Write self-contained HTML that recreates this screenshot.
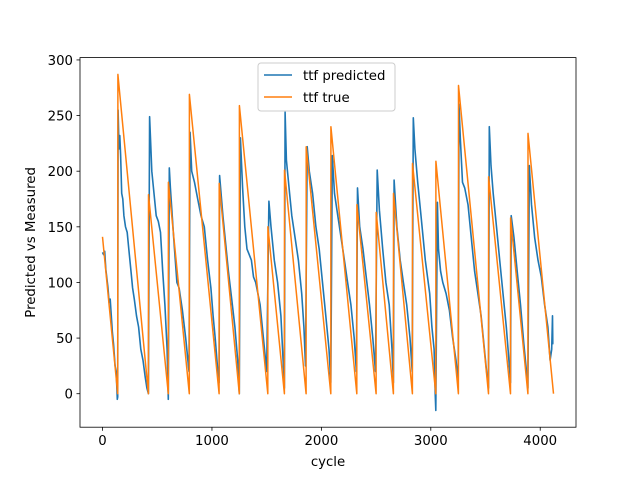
<!DOCTYPE html>
<html><head><meta charset="utf-8"><style>
body{margin:0;background:#fff}
svg text{font-family:"DejaVu Sans","Liberation Sans",sans-serif;font-size:13.3px;fill:#000}
</style></head><body>
<svg id="chart" width="640" height="480" xmlns="http://www.w3.org/2000/svg">
<rect width="640" height="480" fill="#fff"/>
<g id="plot"></g>
<g id="axes"></g>
</svg>
<script>
const trueStarts=[0,140,420,602,794,1066,1251,1511,1663,1861,2087,2325,2501,2659,2833,3047,3253,3528,3729,3888];
const truePeaks=[141,287,179,190,269,189,259,150,201,222,240,170,163,180,207,209,277,195,158,234];
const trueEnds=[139,419,601,793,1065,1250,1510,1662,1860,2086,2324,2500,2658,2832,3046,3252,3527,3728,3887,4121];
const predCycles=[0,10,20,30,50,60,70,90,100,115,125,135,139,
142,150,158,165,175,185,195,210,225,240,260,275,290,310,330,350,370,390,405,419,
430,440,450,470,490,510,530,550,570,590,601,
610,620,650,680,700,730,760,790,
800,815,840,870,900,930,960,990,1010,1030,1050,1065,
1070,1100,1120,1150,1180,1210,1235,1250,
1260,1280,1300,1320,1340,1360,1380,1400,1420,1440,1460,1480,1500,
1520,1540,1570,1600,1630,1650,1662,
1668,1680,1710,1730,1760,1790,1820,1840,1855,
1870,1890,1920,1950,1980,2010,2040,2070,2086,
2100,2120,2150,2180,2210,2240,2270,2300,2320,
2330,2350,2380,2410,2440,2470,2495,
2510,2530,2560,2590,2620,2645,2658,
2665,2690,2720,2750,2780,2810,2830,
2840,2855,2880,2910,2950,2990,3010,3030,3040,3046,
3060,3070,3090,3110,3140,3170,3200,3230,3250,
3258,3270,3290,3310,3340,3370,3400,3430,3460,3490,3510,3527,
3535,3550,3570,3600,3630,3660,3690,3710,3728,
3735,3760,3790,3820,3850,3875,3887,
3900,3920,3950,3980,4010,4040,4070,4090,4105,4112,4115,4121];
const predValues=[127,125,128,112,95,82,85,55,45,25,20,-5,-3,
255,220,232,215,180,175,160,150,145,130,110,95,85,70,60,40,30,15,5,0,
249,225,200,180,160,155,145,110,80,40,-5,
203,185,140,100,95,75,50,20,
235,200,190,175,160,150,120,95,70,50,25,10,
196,160,140,110,85,60,30,0,
230,185,150,130,125,120,105,100,90,80,60,40,20,
173,150,120,100,70,30,5,
253,210,180,160,140,120,90,60,25,
222,200,180,150,130,100,70,40,10,
214,180,160,140,120,100,80,50,20,
185,150,130,105,80,50,20,
201,165,130,100,80,40,10,
192,150,120,100,80,50,20,
248,220,190,160,120,90,60,40,0,-15,
172,130,110,100,90,75,50,30,10,
260,230,190,185,170,140,110,90,70,40,20,5,
240,205,180,150,120,90,60,35,10,
160,140,110,80,45,20,5,
205,170,140,120,105,80,60,30,40,70,45,45];
const xTicks=[0,1000,2000,3000,4000];
const yTicks=[0,50,100,150,200,250,300];

const L=80,R=576,T=57.6,B=427.2;
const xMin=-206,xMax=4327,yMin=-30.1,yMax=302.1;
const X=v=>L+(v-xMin)/(xMax-xMin)*(R-L);
const Y=v=>B-(v-yMin)/(yMax-yMin)*(B-T);
const NS='http://www.w3.org/2000/svg';
function mk(tag,attrs,parent){const e=document.createElementNS(NS,tag);for(const k in attrs)e.setAttribute(k,attrs[k]);parent.appendChild(e);return e;}
const plot=document.getElementById('plot'),axes=document.getElementById('axes');

let pd='';
predCycles.forEach((c,i)=>{pd+=(i?'L':'M')+X(c).toFixed(1)+' '+Y(predValues[i]).toFixed(1);});
const pl=mk('path',{d:pd,fill:'none',stroke:'#1f77b4','stroke-width':1.6,'stroke-linejoin':'round'},plot);



let td='';
trueStarts.forEach((s,i)=>{
  td+=(i?'L':'M')+X(s).toFixed(1)+' '+Y(truePeaks[i]).toFixed(1);
  td+='L'+X(trueEnds[i]).toFixed(1)+' '+Y(0).toFixed(1);
});
const tl=mk('path',{d:td,fill:'none',stroke:'#ff7f0e','stroke-width':1.5,'stroke-linejoin':'round'},plot);



const frame=mk('rect',{x:L,y:T,width:R-L,height:B-T,fill:'none',stroke:'#000','stroke-width':0.8},axes);



xTicks.forEach(v=>{
  const x=X(v);
  mk('line',{x1:x,x2:x,y1:B,y2:B+3.5,stroke:'#000','stroke-width':0.8},axes);
  const t=mk('text',{x:x,y:B+18,'text-anchor':'middle'},axes);t.textContent=v;
  
  
});
yTicks.forEach(v=>{
  const y=Y(v);
  mk('line',{x1:L-3.5,x2:L,y1:y,y2:y,stroke:'#000','stroke-width':0.8},axes);
  const t=mk('text',{x:L-7,y:y+5,'text-anchor':'end'},axes);t.textContent=v;
  
  
});
const xt=mk('text',{x:(L+R)/2,y:466,'text-anchor':'middle'},axes);xt.textContent='cycle';


const yt=mk('text',{x:0,y:0,'text-anchor':'middle',transform:'translate(35,'+((T+B)/2)+') rotate(-90)'},axes);yt.textContent='Predicted vs Measured';



const lg=mk('g',{},axes);


mk('rect',{x:258,y:63,width:137,height:48,rx:3,fill:'#fff','fill-opacity':0.8,stroke:'#ccc','stroke-width':1},lg);
mk('line',{x1:264,x2:292,y1:75,y2:75,stroke:'#1f77b4','stroke-width':1.5},lg);
mk('line',{x1:264,x2:292,y1:97,y2:97,stroke:'#ff7f0e','stroke-width':1.5},lg);
const l1=mk('text',{x:303,y:80},lg);l1.textContent='ttf predicted';


const l2=mk('text',{x:303,y:102},lg);l2.textContent='ttf true';


</script>
</body></html>
